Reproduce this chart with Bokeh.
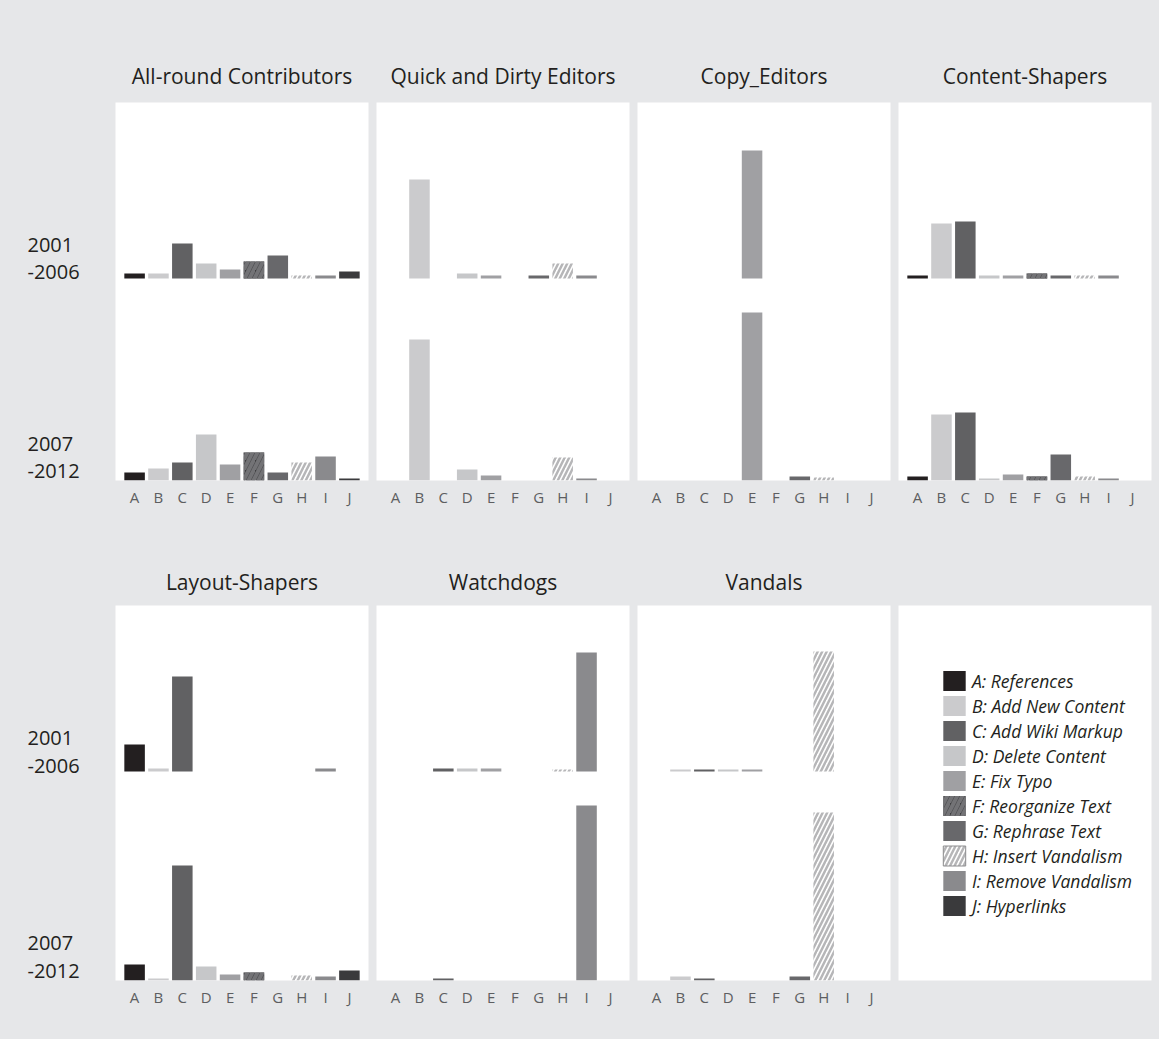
from bokeh.plotting import figure
from bokeh.models import ColumnDataSource, FactorRange, Range1d, Label, Legend, LegendItem
from bokeh.layouts import column, row
from bokeh.embed import file_html
from bokeh.resources import INLINE

# ---------------- data ----------------
categories = ["A", "B", "C", "D", "E", "F", "G", "H", "I", "J"]
legend_labels = ["A: References", "B: Add New Content", "C: Add Wiki Markup",
                 "D: Delete Content", "E: Fix Typo", "F: Reorganize Text",
                 "G: Rephrase Text", "H: Insert Vandalism", "I: Remove Vandalism",
                 "J: Hyperlinks"]
period_labels = [["2001", "-2006"], ["2007", "-2012"]]
roles = ["All-round Contributors", "Quick and Dirty Editors", "Copy_Editors",
         "Content-Shapers", "Layout-Shapers", "Watchdogs", "Vandals"]

allround_2001 = [5, 5, 35, 15, 9, 17, 23, 3, 3, 7]
allround_2007 = [8, 12, 18, 46, 16, 28, 8, 18, 24, 2]
quick_2001 = [0, 99, 0, 5, 3, 0, 3, 15, 3, 0]
quick_2007 = [0, 141, 0, 11, 5, 0, 0, 23, 2, 0]
copy_2001 = [0, 0, 0, 0, 128, 0, 0, 0, 0, 0]
copy_2007 = [0, 0, 0, 0, 168, 0, 4, 3, 0, 0]
content_2001 = [3, 55, 57, 3, 3, 5, 3, 3, 3, 0]
content_2007 = [4, 66, 68, 2, 6, 4, 26, 4, 2, 0]
layout_2001 = [27, 3, 95, 0, 0, 0, 0, 0, 3, 0]
layout_2007 = [16, 2, 115, 14, 6, 8, 0, 5, 4, 10]
watch_2001 = [0, 0, 3, 3, 3, 0, 0, 2, 119, 0]
watch_2007 = [0, 0, 2, 0, 0, 0, 0, 0, 175, 0]
vandal_2001 = [0, 2, 2, 2, 2, 0, 0, 120, 0, 0]
vandal_2007 = [0, 4, 2, 0, 0, 0, 4, 168, 0, 0]

# ---------------- styles ----------------
BG = "#e6e7e9"
TXT = "#231f20"
FONT = "Open Sans"
fills = ["#231f20", "#cbcbcd", "#616163", "#c6c7c9", "#a0a0a3",
         "#3e3e40", "#68686b", "#ffffff", "#8a8a8d", "#3a3a3c"]
patterns = ["", "", "", "", "", "/", "", "/", "", ""]
hcolors = {"F": "#737376", "H": "#b6b6b8"}
hscales = {"F": 10, "H": 9}
hweights = {"F": 4, "H": 2.5}

FW = 253
LABEL_W = 115
ROW_H = [(176, 202), (166, 209)]      # upper / lower half heights
BORDER_TOP = [102, 85]
BORDER_BOTTOM = [40, 59]
TITLE_STANDOFF = [25, 20]
# vertical positions of the year labels, in px above each row's frame bottom
LABEL_Y = [[(236, 209), (37, 10)], [(243, 215), (38, 10)]]


def style_fig(p, top, bottom, right, bg="white"):
    p.min_border = 0
    p.min_border_left = 0
    p.min_border_right = right
    p.min_border_top = top
    p.min_border_bottom = bottom
    p.background_fill_color = bg
    p.border_fill_color = BG
    p.outline_line_color = None
    p.grid.visible = False


def add_bars(p, vals, range_name):
    solid = [i for i in range(len(categories)) if patterns[i] == ""]
    src = ColumnDataSource(dict(x=[categories[i] for i in solid],
                                top=[vals[i] for i in solid],
                                fill=[fills[i] for i in solid]))
    p.vbar(x="x", top="top", bottom=0, width=0.86, source=src, fill_color="fill",
           line_color=None, y_range_name=range_name)
    for i in range(len(categories)):
        if patterns[i] == "":
            continue
        c = categories[i]
        hsrc = ColumnDataSource(dict(x=[c], top=[vals[i]]))
        p.vbar(x="x", top="top", bottom=0, width=0.86, source=hsrc, fill_color=fills[i],
               line_color=None, hatch_pattern=patterns[i], hatch_color=hcolors[c],
               hatch_scale=hscales[c], hatch_weight=hweights[c], y_range_name=range_name)


def panel(role_idx, upper_vals, lower_vals, row_idx):
    th, bh = ROW_H[row_idx]
    p = figure(x_range=FactorRange(factors=categories, range_padding=0.06),
               y_range=Range1d(0, th + bh), frame_width=FW, frame_height=th + bh,
               output_backend="svg", toolbar_location=None,
               x_axis_location="below", y_axis_location=None, title=roles[role_idx])
    p.extra_y_ranges = {"upper": Range1d(-bh, th)}
    style_fig(p, BORDER_TOP[row_idx], BORDER_BOTTOM[row_idx], 8)
    p.title.text_font = FONT
    p.title.text_font_size = "21px"
    p.title.text_font_style = "normal"
    p.title.text_color = TXT
    p.title.align = "center"
    p.title.standoff = TITLE_STANDOFF[row_idx]
    ax = p.xaxis[0]
    ax.axis_line_color = None
    ax.major_tick_line_color = None
    ax.minor_tick_line_color = None
    ax.major_tick_out = 0
    ax.major_tick_in = 0
    ax.major_label_text_font = FONT
    ax.major_label_text_font_size = "15px"
    ax.major_label_text_color = "#5d5e61"
    ax.major_label_standoff = 6
    add_bars(p, upper_vals, "upper")
    add_bars(p, lower_vals, "default")
    return p


def label_fig(row_idx):
    th, bh = ROW_H[row_idx]
    p = figure(frame_width=LABEL_W, frame_height=th + bh, output_backend="svg",
               toolbar_location=None, x_axis_location=None, y_axis_location=None,
               x_range=Range1d(0, 1), y_range=Range1d(0, 1))
    style_fig(p, BORDER_TOP[row_idx], BORDER_BOTTOM[row_idx], 0, bg=BG)
    for lines, ys in zip(period_labels, LABEL_Y[row_idx]):
        for t, yy in zip(lines, ys):
            p.add_layout(Label(x=27, y=yy, x_units="screen", y_units="screen",
                               text=t, text_font=FONT, text_font_size="20px",
                               text_color=TXT, text_baseline="alphabetic"))
    return p


row1 = row(label_fig(0),
           panel(0, allround_2001, allround_2007, 0),
           panel(1, quick_2001, quick_2007, 0),
           panel(2, copy_2001, copy_2007, 0),
           panel(3, content_2001, content_2007, 0))

# legend panel
lh = ROW_H[1][0] + ROW_H[1][1]
pl = figure(x_range=FactorRange(factors=categories), y_range=Range1d(0, lh),
            frame_width=FW, frame_height=lh, output_backend="svg", toolbar_location=None,
            x_axis_location=None, y_axis_location=None)
style_fig(pl, BORDER_TOP[1], BORDER_BOTTOM[1], 8)
items = []
for i, cat in enumerate(categories):
    kw = dict(fill_color=fills[i], line_color=None)
    if patterns[i]:
        kw.update(hatch_pattern=patterns[i], hatch_color=hcolors[cat],
                  hatch_scale=hscales[cat], hatch_weight=hweights[cat])
    if cat == "H":
        kw.update(line_color="#8c8c8e", line_width=1)
    r = pl.vbar(x=[cat], top=[vandal_2001[i]], width=0.8, visible=False, **kw)
    items.append(LegendItem(label=legend_labels[i], renderers=[r]))
legend = Legend(items=items, location=(42, 62), padding=0, margin=0, spacing=0,
                glyph_width=28, glyph_height=25, label_height=25, label_standoff=4,
                label_text_font=FONT, label_text_font_style="italic",
                label_text_font_size="17.5px", label_text_color=TXT,
                background_fill_alpha=0, border_line_color=None)
pl.add_layout(legend)

row2 = row(label_fig(1),
           panel(4, layout_2001, layout_2007, 1),
           panel(5, watch_2001, watch_2007, 1),
           panel(6, vandal_2001, vandal_2007, 1),
           pl)

layout = column(row1, row2, styles={"background-color": BG})

open("out.html", "w").write(file_html(layout, INLINE))
